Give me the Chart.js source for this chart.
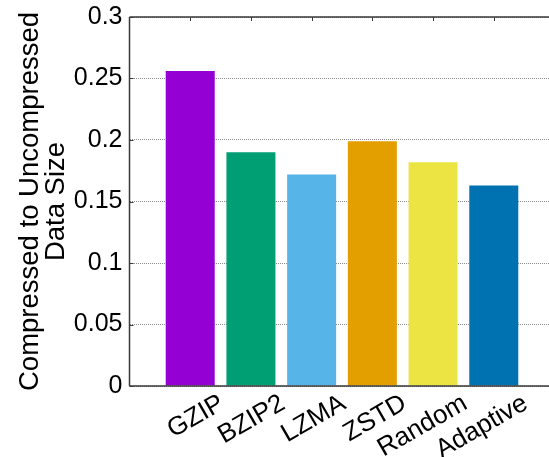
<!DOCTYPE html>
<html>
<head>
<meta charset="utf-8">
<script src="https://cdn.jsdelivr.net/npm/chart.js@4/dist/chart.umd.min.js"></script>
<style>
  html, body { margin: 0; padding: 0; background: #fff; overflow: hidden; width: 549px; height: 457px; }
  canvas { display: block; }
</style>
</head>
<body>
<canvas id="c" width="556" height="457"></canvas>
<script>
const categories = ['GZIP', 'BZIP2', 'LZMA', 'ZSTD', 'Random', 'Adaptive'];
const ratios = [0.256, 0.190, 0.172, 0.199, 0.182, 0.163];
const barColors = ['#9400D3', '#009E73', '#56B4E9', '#E39E00', '#ECE442', '#0072B2'];
const yTicks = [0, 0.05, 0.1, 0.15, 0.2, 0.25, 0.3];
const yTitle = ['Compressed to Uncompressed', 'Data Size'];

// x axis runs from 0 to 7 with the bars at 1..6 (empty slots at the ends)
const xLabels = ['', ...categories, ''];
const xData = [null, ...ratios, null];
const xColors = ['#fff', ...barColors, '#fff'];

const frame = {
  id: 'frame',
  afterDatasetsDraw(chart) {
    const { ctx, chartArea: { left, right, top, bottom }, scales: { x, y } } = chart;
    ctx.save();
    ctx.strokeStyle = '#3a3a3a';
    ctx.lineWidth = 1.5;
    ctx.beginPath();
    ctx.moveTo(left, top); ctx.lineTo(right, top);
    ctx.moveTo(left, top); ctx.lineTo(left, bottom);
    ctx.moveTo(left, bottom); ctx.lineTo(right, bottom);
    ctx.stroke();
    ctx.lineWidth = 1;
    ctx.beginPath();
    categories.forEach((c, i) => {
      const px = Math.round(x.getPixelForValue(i + 1)) + 0.5;
      ctx.moveTo(px, top); ctx.lineTo(px, top + 4);
    });
    yTicks.forEach(v => {
      const py = Math.round(y.getPixelForValue(v)) + 0.5;
      ctx.moveTo(left, py); ctx.lineTo(left + 4, py);
    });
    ctx.stroke();
    ctx.restore();
  }
};

function zeroPad(s) { s.paddingLeft = 0; s.paddingRight = 0; s.paddingTop = 0; s.paddingBottom = 0; }

new Chart(document.getElementById('c'), {
  type: 'bar',
  data: {
    labels: xLabels,
    datasets: [{
      data: xData,
      backgroundColor: xColors,
      borderWidth: 0,
      categoryPercentage: 1,
      barPercentage: 0.807
    }]
  },
  options: {
    responsive: false,
    animation: false,
    devicePixelRatio: 1,
    layout: { padding: { top: 17, right: 1.5, bottom: 0, left: 0 } },
    plugins: { legend: { display: false }, tooltip: { enabled: false } },
    scales: {
      x: {
        offset: false,
        grid: { display: false, drawTicks: false },
        border: { display: false },
        ticks: {
          autoSkip: false,
          minRotation: 30,
          maxRotation: 30,
          padding: 2,
          labelOffset: 32,
          color: '#000',
          font: { family: 'Liberation Sans, Arial, sans-serif', size: 26 }
        },
        afterFit(s) { s.height = 71; zeroPad(s); }
      },
      y: {
        min: 0,
        max: 0.3,
        afterBuildTicks(s) { s.ticks = yTicks.map(v => ({ value: v })); },
        grid: { color: '#8a8a8a', lineWidth: 1, drawTicks: false },
        border: { display: false, dash: [1, 1] },
        ticks: {
          padding: 7,
          color: '#000',
          font: { family: 'Liberation Sans, Arial, sans-serif', size: 25 },
          callback: v => String(Math.round(v * 100) / 100)
        },
        title: {
          display: true,
          text: yTitle,
          color: '#000',
          padding: { top: 17, bottom: 0 },
          font: { family: 'Liberation Sans, Arial, sans-serif', size: 27.5, lineHeight: 0.945 }
        },
        afterFit(s) { s.width = 129.5; zeroPad(s); }
      }
    }
  },
  plugins: [frame]
});
</script>
</body>
</html>
